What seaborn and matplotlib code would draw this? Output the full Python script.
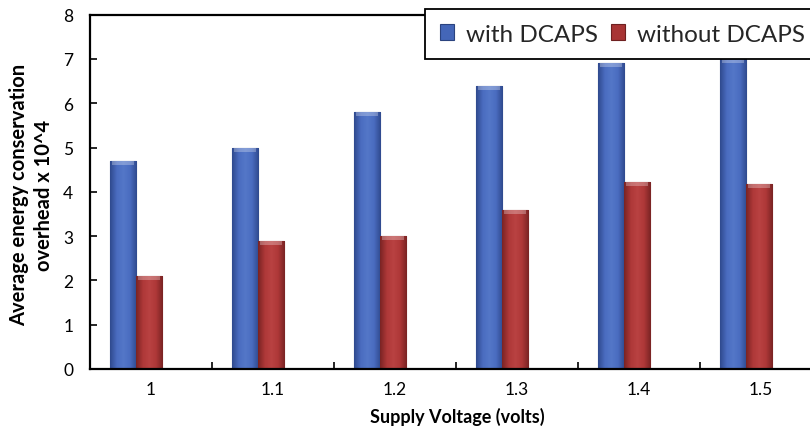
import numpy as np
import pandas as pd
import matplotlib
matplotlib.use("Agg")
import matplotlib.pyplot as plt
import seaborn as sns
from matplotlib.patches import Patch
from matplotlib.colors import LinearSegmentedColormap

# Supply voltage categories and average overhead (x 10^4) per scheme
voltages = ["1", "1.1", "1.2", "1.3", "1.4", "1.5"]
with_dcaps = [4.7, 5.0, 5.8, 6.4, 6.9, 7.0]
without_dcaps = [2.1, 2.9, 3.0, 3.6, 4.23, 4.18]
series_names = ["with DCAPS", "without DCAPS"]
y_ticks = [0, 1, 2, 3, 4, 5, 6, 7, 8]

colors = ["#4466B8", "#A83434"]
edge_colors = ["#2B437F", "#6E2020"]
# shading across each column: dark rim, lighter middle
shades = [
    ["#2F4A8E", "#4A6CC0", "#5477C8", "#4A6CC0", "#2F4A8E"],
    ["#7A2424", "#AE3838", "#B94242", "#AE3838", "#7A2424"],
]

df = pd.DataFrame({
    "Voltage": voltages * 2,
    "Overhead": with_dcaps + without_dcaps,
    "Scheme": [series_names[0]] * len(voltages) + [series_names[1]] * len(voltages),
})

sns.set_theme(style="white")
plt.rcParams["font.family"] = ["Lato", "DejaVu Sans"]

fig = plt.figure(figsize=(8.1, 4.31), dpi=100)
ax = fig.add_axes([90 / 810, 61 / 431, 732 / 810, 354.3 / 431])

sns.barplot(
    data=df, x="Voltage", y="Overhead", hue="Scheme",
    order=voltages, hue_order=series_names,
    palette=colors, saturation=1, width=0.434, gap=0,
    legend=False, ax=ax, linewidth=0.8,
)

# paint a horizontal gradient inside every bar, clipped to the bar shape
grad = np.linspace(0, 1, 64).reshape(1, -1)
for cont, ec, sh in zip(ax.containers, edge_colors, shades):
    cmap = LinearSegmentedColormap.from_list("bar", sh)
    for bar in cont:
        bar.set_edgecolor(ec)
        x0, y0 = bar.get_x(), bar.get_y()
        w, h = bar.get_width(), bar.get_height()
        im = ax.imshow(grad, cmap=cmap, aspect="auto",
                       extent=(x0, x0 + w, y0, y0 + h), zorder=bar.get_zorder() + 0.1)
        im.set_clip_path(bar)
        # lighter bevel on the column top
        cap_h = 0.09
        ax.fill_between([x0 + w * 0.08, x0 + w * 0.92], y0 + h - cap_h, y0 + h,
                        color="white", alpha=0.28, linewidth=0,
                        zorder=bar.get_zorder() + 0.2)
ax.set_xlim(-0.377, 5.623)
ax.set_ylim(0, 8)

# category labels sit slightly right of the bar pairs
label_shift = 0.12
ax.set_xticks(np.arange(len(voltages)) + label_shift, voltages)
ax.set_xticks(np.arange(len(voltages) - 1) + label_shift + 0.5, minor=True)
ax.tick_params(axis="x", which="major", length=0, pad=9, labelsize=12.5, colors="black")
ax.tick_params(axis="x", which="minor", bottom=True, direction="in", length=5, width=1.2, color="black")

ax.set_yticks(y_ticks)
ax.tick_params(axis="y", left=True, direction="in", length=5, width=1.2, color="black",
               pad=12, labelsize=12.5, labelcolor="black")

for side in ["left", "bottom", "top", "right"]:
    ax.spines[side].set_color("black")
    ax.spines[side].set_linewidth(1.6)
    ax.spines[side].set_zorder(5)

ax.set_xlabel("Supply Voltage (volts)", fontsize=13, fontweight="bold", color="black")
ax.xaxis.label.set_va("center")
ax.xaxis.set_label_coords(0.502, -0.133)

ax.set_ylabel("Average energy conservation\noverhead x 10^4", fontsize=14.5,
              fontweight="bold", color="black", linespacing=1.3, multialignment="center")
ax.yaxis.label.set_va("center")
ax.yaxis.set_label_coords(-0.080, 0.494)

handles = [Patch(facecolor=c, edgecolor=e, linewidth=0.8, label=n)
           for c, e, n in zip(colors, edge_colors, series_names)]
leg = fig.legend(
    handles=handles, loc="upper left", bbox_to_anchor=(425 / 810, 1 - 10 / 431),
    ncol=2, fontsize=17.5, frameon=True, fancybox=False, framealpha=1,
    edgecolor="black", borderpad=0.6, handlelength=0.58, handleheight=0.58,
    handletextpad=0.5, columnspacing=0.55, borderaxespad=0,
)
leg.get_frame().set_linewidth(1.3)

fig.savefig("out.png", dpi=100)
